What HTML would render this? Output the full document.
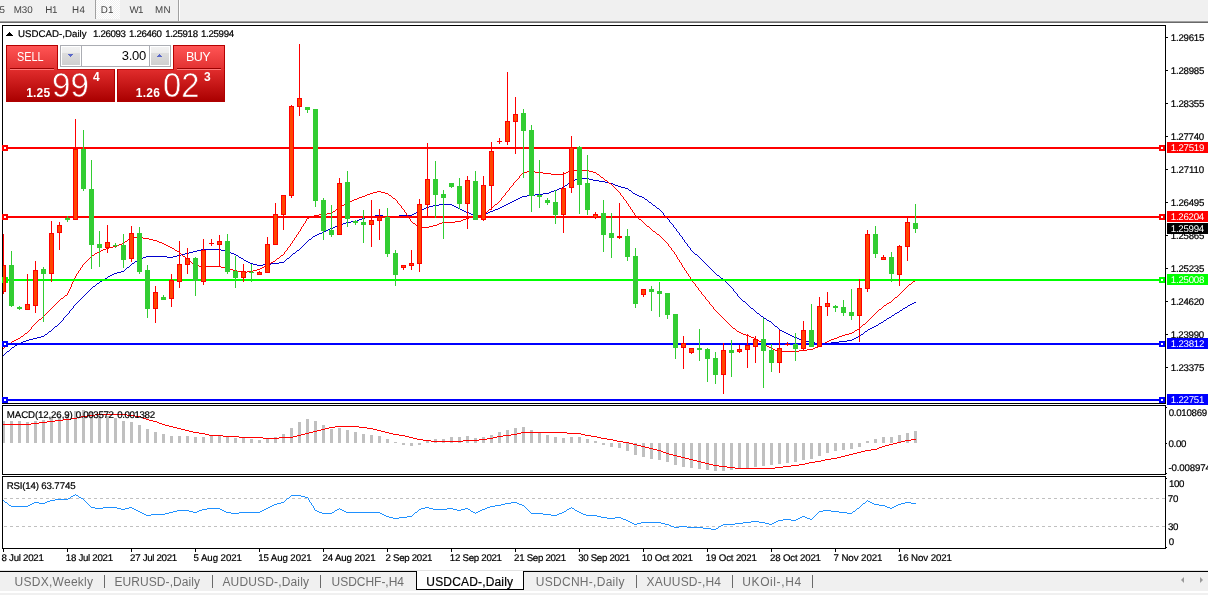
<!DOCTYPE html>
<html><head><meta charset="utf-8"><title>USDCAD-,Daily</title>
<style>
html,body{margin:0;padding:0;background:#fff}
body{width:1208px;height:595px;overflow:hidden;position:relative;font-family:"Liberation Sans",sans-serif}
#chart{position:absolute;left:0;top:0}
.t{position:absolute;white-space:pre;transform-origin:0 0;display:block}
.ax{color:#000;-webkit-text-stroke:0.2px #000}
.axw{color:#fff}
.tb{color:#444}
.tab{color:#6e6e6e}
.taba{color:#000;-webkit-text-stroke:0.2px #000}
.btn,.sm{color:#fff}
.big{color:#fff;-webkit-text-stroke:0.6px #c61818}
.vol{color:#000}
i{position:absolute;display:block}
.pl{left:1167px;width:41px;height:11px}
#toolbar{position:absolute;left:0;top:0;width:1208px;height:21px;background:#f0f0f0}
#tbl1{left:0;top:21px;width:1208px;height:1px;background:#a0a0a0}
#tbl2{left:0;top:22px;width:1208px;height:1px;background:#696969}
.tsep{top:0;width:1px;background:#a0a0a0}
#d1{left:96px;top:0;width:24px;height:19px;background-image:conic-gradient(#fff 25%,#f0f0f0 0 50%,#fff 0 75%,#f0f0f0 0);background-size:2px 2px}
#tabbar{position:absolute;left:0;top:570px;width:1208px;height:25px;background:#f0f0f0}
#tl1{left:0;top:0;width:100%;height:1px;background:#e3e3e3}
#tl2{left:0;top:1px;width:100%;height:1px;background:#000}
#tl3{left:0;top:21px;width:100%;height:2px;background:#fff}
.sep{top:575px;width:1px;height:13px;background:#6a6a6a}
#act{left:416px;top:571px;width:106px;height:18px;background:#fff;border:1px solid #000;border-top:0}
.ar{top:576.5px;width:0;height:0;border:3.5px solid transparent}
/* trade panel */
.rb{background:linear-gradient(#ff5454,#e23232);border:1px solid #b40000;border-bottom:0;box-sizing:border-box;top:45px;width:52px;height:24px}
.px{background:linear-gradient(#e02c2c,#aa0000);border:1px solid #b00000;border-top-color:#c01010;box-sizing:border-box;top:69px;height:33px}
.ud{top:68px;height:1px;width:44px;background:#9a0000}
.ul{top:69px;height:1px;width:44px;background:#ff7878}
#spin{left:60px;top:45px;width:111px;height:22px;box-sizing:border-box;border:1px solid #abadb3;background:#fff}
.sb{top:47px;width:18px;height:18px;background:linear-gradient(#f2f2f2,#ebebeb 33%,#dddddd 34%,#cfcfcf)}
.sv{top:46px;width:1px;height:20px;background:#abadb3}
.a1{height:1px;background:#5a68c8}
</style></head><body>
<svg id="chart" width="1208" height="595" viewBox="0 0 1208 595" shape-rendering="crispEdges">
<path d="M578 178h11v1h-11zM575 179h3v1h-3zM589 179h4v1h-4zM573 180h2v1h-2zM593 180h6v1h-6zM571 181h2v1h-2zM599 181h6v1h-6zM569 182h2v1h-2zM605 182h4v1h-4zM568 183h1v1h-1zM609 183h4v1h-4zM567 184h1v1h-1zM613 184h2v1h-2zM565 185h2v1h-2zM615 185h3v1h-3zM564 186h1v1h-1zM618 186h3v1h-3zM562 187h2v1h-2zM621 187h4v1h-4zM559 188h3v1h-3zM625 188h3v1h-3zM557 189h2v1h-2zM628 189h1v1h-1zM554 190h3v1h-3zM629 190h2v1h-2zM551 191h3v1h-3zM631 191h1v1h-1zM549 192h2v1h-2zM632 192h1v1h-1zM543 193h6v1h-6zM633 193h2v1h-2zM535 194h8v1h-8zM635 194h2v1h-2zM527 195h8v1h-8zM637 195h2v1h-2zM522 196h5v1h-5zM639 196h3v1h-3zM520 197h2v1h-2zM642 197h2v1h-2zM518 198h2v1h-2zM644 198h1v1h-1zM516 199h2v1h-2zM645 199h2v1h-2zM514 200h2v1h-2zM647 200h1v1h-1zM512 201h2v1h-2zM648 201h1v1h-1zM510 202h2v1h-2zM649 202h2v1h-2zM508 203h2v1h-2zM651 203h1v1h-1zM439 204h13v1h-13zM506 204h2v1h-2zM652 204h1v1h-1zM433 205h6v1h-6zM452 205h2v1h-2zM504 205h2v1h-2zM653 205h2v1h-2zM429 206h4v1h-4zM454 206h2v1h-2zM502 206h2v1h-2zM655 206h1v1h-1zM426 207h3v1h-3zM456 207h2v1h-2zM500 207h2v1h-2zM656 207h1v1h-1zM424 208h2v1h-2zM458 208h2v1h-2zM498 208h2v1h-2zM657 208h2v1h-2zM422 209h2v1h-2zM460 209h2v1h-2zM495 209h3v1h-3zM659 209h1v1h-1zM420 210h2v1h-2zM462 210h2v1h-2zM493 210h2v1h-2zM660 210h1v1h-1zM418 211h2v1h-2zM464 211h2v1h-2zM490 211h3v1h-3zM661 211h1v1h-1zM416 212h2v1h-2zM466 212h3v1h-3zM488 212h2v1h-2zM662 212h1v1h-1zM414 213h2v1h-2zM469 213h2v1h-2zM486 213h2v1h-2zM663 213h1v1h-1zM412 214h2v1h-2zM471 214h3v1h-3zM484 214h2v1h-2zM663 214h1v1h-1zM375 215h8v1h-8zM399 215h13v1h-13zM474 215h10v1h-10zM664 215h1v1h-1zM369 216h6v1h-6zM383 216h16v1h-16zM665 216h1v1h-1zM365 217h4v1h-4zM666 217h1v1h-1zM362 218h3v1h-3zM667 218h1v1h-1zM359 219h3v1h-3zM668 219h1v1h-1zM357 220h2v1h-2zM669 220h1v1h-1zM351 221h6v1h-6zM669 221h1v1h-1zM346 222h5v1h-5zM670 222h1v1h-1zM343 223h3v1h-3zM671 223h1v1h-1zM341 224h2v1h-2zM672 224h1v1h-1zM338 225h3v1h-3zM673 225h1v1h-1zM335 226h3v1h-3zM673 226h1v1h-1zM333 227h2v1h-2zM674 227h1v1h-1zM330 228h3v1h-3zM675 228h1v1h-1zM328 229h2v1h-2zM676 229h1v1h-1zM326 230h2v1h-2zM676 230h1v1h-1zM324 231h2v1h-2zM677 231h1v1h-1zM322 232h2v1h-2zM678 232h1v1h-1zM319 233h3v1h-3zM679 233h1v1h-1zM317 234h2v1h-2zM679 234h1v1h-1zM315 235h2v1h-2zM680 235h1v1h-1zM313 236h2v1h-2zM681 236h1v1h-1zM312 237h1v1h-1zM682 237h1v1h-1zM311 238h1v1h-1zM682 238h1v1h-1zM309 239h2v1h-2zM683 239h1v1h-1zM308 240h1v1h-1zM684 240h1v1h-1zM307 241h1v1h-1zM684 241h1v1h-1zM306 242h1v1h-1zM685 242h1v1h-1zM305 243h1v1h-1zM686 243h1v1h-1zM304 244h1v1h-1zM687 244h1v1h-1zM303 245h1v1h-1zM687 245h1v1h-1zM302 246h1v1h-1zM688 246h1v1h-1zM301 247h1v1h-1zM689 247h1v1h-1zM300 248h1v1h-1zM690 248h1v1h-1zM201 249h20v1h-20zM299 249h1v1h-1zM690 249h1v1h-1zM197 250h4v1h-4zM221 250h4v1h-4zM297 250h2v1h-2zM691 250h1v1h-1zM193 251h4v1h-4zM225 251h4v1h-4zM296 251h1v1h-1zM692 251h1v1h-1zM189 252h4v1h-4zM229 252h2v1h-2zM295 252h1v1h-1zM693 252h1v1h-1zM185 253h4v1h-4zM231 253h3v1h-3zM293 253h2v1h-2zM694 253h1v1h-1zM181 254h4v1h-4zM234 254h2v1h-2zM292 254h1v1h-1zM695 254h2v1h-2zM177 255h4v1h-4zM236 255h2v1h-2zM291 255h1v1h-1zM697 255h1v1h-1zM146 256h21v1h-21zM173 256h4v1h-4zM238 256h1v1h-1zM290 256h1v1h-1zM698 256h1v1h-1zM143 257h3v1h-3zM167 257h6v1h-6zM239 257h2v1h-2zM289 257h1v1h-1zM699 257h1v1h-1zM141 258h2v1h-2zM241 258h2v1h-2zM287 258h2v1h-2zM700 258h1v1h-1zM139 259h2v1h-2zM243 259h1v1h-1zM286 259h1v1h-1zM701 259h1v1h-1zM137 260h2v1h-2zM244 260h2v1h-2zM285 260h1v1h-1zM702 260h1v1h-1zM135 261h2v1h-2zM246 261h2v1h-2zM284 261h1v1h-1zM703 261h1v1h-1zM134 262h1v1h-1zM248 262h2v1h-2zM279 262h5v1h-5zM704 262h1v1h-1zM132 263h2v1h-2zM250 263h3v1h-3zM271 263h8v1h-8zM705 263h1v1h-1zM131 264h1v1h-1zM253 264h4v1h-4zM263 264h8v1h-8zM706 264h1v1h-1zM130 265h1v1h-1zM257 265h6v1h-6zM707 265h1v1h-1zM129 266h1v1h-1zM708 266h1v1h-1zM127 267h2v1h-2zM709 267h1v1h-1zM126 268h1v1h-1zM710 268h1v1h-1zM125 269h1v1h-1zM711 269h1v1h-1zM124 270h1v1h-1zM712 270h1v1h-1zM121 271h3v1h-3zM713 271h1v1h-1zM117 272h4v1h-4zM714 272h1v1h-1zM114 273h3v1h-3zM715 273h1v1h-1zM112 274h2v1h-2zM716 274h1v1h-1zM110 275h2v1h-2zM717 275h2v1h-2zM108 276h2v1h-2zM719 276h1v1h-1zM107 277h1v1h-1zM720 277h1v1h-1zM105 278h2v1h-2zM721 278h2v1h-2zM103 279h2v1h-2zM723 279h1v1h-1zM102 280h1v1h-1zM724 280h1v1h-1zM100 281h2v1h-2zM725 281h1v1h-1zM99 282h1v1h-1zM726 282h1v1h-1zM97 283h2v1h-2zM727 283h1v1h-1zM96 284h1v1h-1zM728 284h1v1h-1zM95 285h1v1h-1zM729 285h1v1h-1zM93 286h2v1h-2zM730 286h1v1h-1zM92 287h1v1h-1zM731 287h1v1h-1zM91 288h1v1h-1zM732 288h1v1h-1zM90 289h1v1h-1zM733 289h1v1h-1zM89 290h1v1h-1zM733 290h1v1h-1zM88 291h1v1h-1zM734 291h1v1h-1zM87 292h1v1h-1zM735 292h1v1h-1zM86 293h1v1h-1zM736 293h1v1h-1zM85 294h1v1h-1zM737 294h1v1h-1zM84 295h1v1h-1zM737 295h1v1h-1zM83 296h1v1h-1zM738 296h1v1h-1zM82 297h1v1h-1zM739 297h1v1h-1zM81 298h1v1h-1zM740 298h1v1h-1zM80 299h1v1h-1zM741 299h1v1h-1zM79 300h1v1h-1zM742 300h1v1h-1zM78 301h1v1h-1zM743 301h2v1h-2zM77 302h1v1h-1zM745 302h1v1h-1zM914 302h2v1h-2zM76 303h1v1h-1zM746 303h1v1h-1zM912 303h2v1h-2zM75 304h1v1h-1zM747 304h1v1h-1zM910 304h2v1h-2zM74 305h1v1h-1zM748 305h1v1h-1zM908 305h2v1h-2zM73 306h1v1h-1zM749 306h1v1h-1zM907 306h1v1h-1zM73 307h1v1h-1zM750 307h1v1h-1zM905 307h2v1h-2zM72 308h1v1h-1zM751 308h2v1h-2zM903 308h2v1h-2zM71 309h1v1h-1zM753 309h1v1h-1zM902 309h1v1h-1zM70 310h1v1h-1zM754 310h1v1h-1zM900 310h2v1h-2zM69 311h1v1h-1zM755 311h1v1h-1zM899 311h1v1h-1zM69 312h1v1h-1zM756 312h1v1h-1zM897 312h2v1h-2zM68 313h1v1h-1zM757 313h2v1h-2zM895 313h2v1h-2zM67 314h1v1h-1zM759 314h1v1h-1zM894 314h1v1h-1zM66 315h1v1h-1zM760 315h1v1h-1zM892 315h2v1h-2zM65 316h1v1h-1zM761 316h2v1h-2zM891 316h1v1h-1zM64 317h1v1h-1zM763 317h1v1h-1zM889 317h2v1h-2zM63 318h1v1h-1zM764 318h2v1h-2zM887 318h2v1h-2zM63 319h1v1h-1zM766 319h1v1h-1zM886 319h1v1h-1zM62 320h1v1h-1zM767 320h2v1h-2zM884 320h2v1h-2zM61 321h1v1h-1zM769 321h2v1h-2zM883 321h1v1h-1zM60 322h1v1h-1zM771 322h1v1h-1zM881 322h2v1h-2zM59 323h1v1h-1zM772 323h1v1h-1zM879 323h2v1h-2zM58 324h1v1h-1zM773 324h1v1h-1zM878 324h1v1h-1zM57 325h1v1h-1zM774 325h1v1h-1zM876 325h2v1h-2zM55 326h2v1h-2zM775 326h2v1h-2zM874 326h2v1h-2zM54 327h1v1h-1zM777 327h1v1h-1zM872 327h2v1h-2zM53 328h1v1h-1zM778 328h1v1h-1zM870 328h2v1h-2zM52 329h1v1h-1zM779 329h1v1h-1zM868 329h2v1h-2zM51 330h1v1h-1zM780 330h2v1h-2zM867 330h1v1h-1zM49 331h2v1h-2zM782 331h2v1h-2zM865 331h2v1h-2zM48 332h1v1h-1zM784 332h2v1h-2zM864 332h1v1h-1zM47 333h1v1h-1zM786 333h2v1h-2zM863 333h1v1h-1zM45 334h2v1h-2zM788 334h2v1h-2zM861 334h2v1h-2zM44 335h1v1h-1zM790 335h2v1h-2zM860 335h1v1h-1zM41 336h3v1h-3zM792 336h2v1h-2zM858 336h2v1h-2zM37 337h4v1h-4zM794 337h3v1h-3zM856 337h2v1h-2zM33 338h4v1h-4zM797 338h2v1h-2zM854 338h2v1h-2zM29 339h4v1h-4zM799 339h3v1h-3zM852 339h2v1h-2zM26 340h3v1h-3zM802 340h3v1h-3zM847 340h5v1h-5zM23 341h3v1h-3zM805 341h4v1h-4zM839 341h8v1h-8zM21 342h2v1h-2zM809 342h6v1h-6zM831 342h8v1h-8zM19 343h2v1h-2zM815 343h16v1h-16zM17 344h2v1h-2zM15 345h2v1h-2zM14 346h1v1h-1zM12 347h2v1h-2zM11 348h1v1h-1zM10 349h1v1h-1zM9 350h1v1h-1zM7 351h2v1h-2zM6 352h1v1h-1zM5 353h1v1h-1zM4 354h1v1h-1zM3 355h1v1h-1z" fill="#0000cd"/>
<path d="M570 170h19v1h-19zM527 171h8v1h-8zM568 171h2v1h-2zM589 171h4v1h-4zM523 172h4v1h-4zM535 172h8v1h-8zM566 172h2v1h-2zM593 172h3v1h-3zM522 173h1v1h-1zM543 173h8v1h-8zM564 173h2v1h-2zM596 173h1v1h-1zM521 174h1v1h-1zM551 174h13v1h-13zM597 174h2v1h-2zM520 175h1v1h-1zM599 175h1v1h-1zM519 176h1v1h-1zM600 176h1v1h-1zM519 177h1v1h-1zM601 177h2v1h-2zM518 178h1v1h-1zM603 178h1v1h-1zM517 179h1v1h-1zM604 179h1v1h-1zM516 180h1v1h-1zM605 180h2v1h-2zM515 181h1v1h-1zM607 181h1v1h-1zM514 182h1v1h-1zM608 182h1v1h-1zM513 183h1v1h-1zM609 183h2v1h-2zM513 184h1v1h-1zM611 184h1v1h-1zM512 185h1v1h-1zM612 185h1v1h-1zM511 186h1v1h-1zM613 186h1v1h-1zM510 187h1v1h-1zM614 187h1v1h-1zM509 188h1v1h-1zM615 188h1v1h-1zM509 189h1v1h-1zM616 189h1v1h-1zM508 190h1v1h-1zM617 190h1v1h-1zM377 191h4v1h-4zM507 191h1v1h-1zM618 191h1v1h-1zM373 192h4v1h-4zM381 192h4v1h-4zM506 192h1v1h-1zM619 192h1v1h-1zM370 193h3v1h-3zM385 193h3v1h-3zM505 193h1v1h-1zM620 193h1v1h-1zM367 194h3v1h-3zM388 194h1v1h-1zM505 194h1v1h-1zM620 194h1v1h-1zM365 195h2v1h-2zM389 195h2v1h-2zM504 195h1v1h-1zM621 195h1v1h-1zM362 196h3v1h-3zM391 196h1v1h-1zM503 196h1v1h-1zM622 196h1v1h-1zM359 197h3v1h-3zM392 197h1v1h-1zM502 197h1v1h-1zM623 197h1v1h-1zM357 198h2v1h-2zM393 198h2v1h-2zM501 198h1v1h-1zM623 198h1v1h-1zM354 199h3v1h-3zM395 199h1v1h-1zM501 199h1v1h-1zM624 199h1v1h-1zM352 200h2v1h-2zM396 200h1v1h-1zM500 200h1v1h-1zM625 200h1v1h-1zM350 201h2v1h-2zM397 201h1v1h-1zM499 201h1v1h-1zM626 201h1v1h-1zM348 202h2v1h-2zM397 202h1v1h-1zM498 202h1v1h-1zM626 202h1v1h-1zM346 203h2v1h-2zM398 203h1v1h-1zM497 203h1v1h-1zM627 203h1v1h-1zM344 204h2v1h-2zM399 204h1v1h-1zM495 204h2v1h-2zM628 204h1v1h-1zM342 205h2v1h-2zM400 205h1v1h-1zM494 205h1v1h-1zM628 205h1v1h-1zM340 206h2v1h-2zM401 206h1v1h-1zM493 206h1v1h-1zM629 206h1v1h-1zM339 207h1v1h-1zM401 207h1v1h-1zM492 207h1v1h-1zM630 207h1v1h-1zM337 208h2v1h-2zM402 208h1v1h-1zM491 208h1v1h-1zM630 208h1v1h-1zM336 209h1v1h-1zM403 209h1v1h-1zM489 209h2v1h-2zM631 209h1v1h-1zM335 210h1v1h-1zM404 210h1v1h-1zM488 210h1v1h-1zM632 210h1v1h-1zM333 211h2v1h-2zM404 211h1v1h-1zM487 211h1v1h-1zM632 211h1v1h-1zM332 212h1v1h-1zM405 212h1v1h-1zM485 212h2v1h-2zM633 212h1v1h-1zM327 213h5v1h-5zM406 213h1v1h-1zM484 213h1v1h-1zM634 213h1v1h-1zM319 214h8v1h-8zM406 214h1v1h-1zM481 214h3v1h-3zM634 214h1v1h-1zM314 215h5v1h-5zM407 215h1v1h-1zM477 215h4v1h-4zM635 215h1v1h-1zM311 216h3v1h-3zM408 216h1v1h-1zM473 216h4v1h-4zM636 216h1v1h-1zM309 217h2v1h-2zM408 217h1v1h-1zM469 217h4v1h-4zM637 217h1v1h-1zM307 218h2v1h-2zM409 218h1v1h-1zM466 218h3v1h-3zM638 218h1v1h-1zM306 219h1v1h-1zM410 219h1v1h-1zM463 219h3v1h-3zM639 219h2v1h-2zM306 220h1v1h-1zM410 220h1v1h-1zM461 220h2v1h-2zM641 220h1v1h-1zM305 221h1v1h-1zM411 221h1v1h-1zM455 221h6v1h-6zM642 221h1v1h-1zM305 222h1v1h-1zM412 222h1v1h-1zM442 222h13v1h-13zM643 222h1v1h-1zM304 223h1v1h-1zM413 223h2v1h-2zM439 223h3v1h-3zM644 223h1v1h-1zM303 224h1v1h-1zM415 224h1v1h-1zM437 224h2v1h-2zM645 224h1v1h-1zM303 225h1v1h-1zM416 225h1v1h-1zM433 225h4v1h-4zM646 225h1v1h-1zM302 226h1v1h-1zM417 226h2v1h-2zM429 226h4v1h-4zM647 226h2v1h-2zM301 227h1v1h-1zM419 227h10v1h-10zM649 227h1v1h-1zM301 228h1v1h-1zM650 228h1v1h-1zM300 229h1v1h-1zM651 229h1v1h-1zM300 230h1v1h-1zM652 230h1v1h-1zM299 231h1v1h-1zM653 231h2v1h-2zM298 232h1v1h-1zM655 232h1v1h-1zM298 233h1v1h-1zM656 233h1v1h-1zM297 234h1v1h-1zM657 234h2v1h-2zM296 235h1v1h-1zM659 235h1v1h-1zM296 236h1v1h-1zM660 236h1v1h-1zM131 237h12v1h-12zM295 237h1v1h-1zM661 237h1v1h-1zM129 238h2v1h-2zM143 238h6v1h-6zM294 238h1v1h-1zM662 238h1v1h-1zM128 239h1v1h-1zM149 239h4v1h-4zM294 239h1v1h-1zM663 239h1v1h-1zM127 240h1v1h-1zM153 240h4v1h-4zM293 240h1v1h-1zM664 240h1v1h-1zM125 241h2v1h-2zM157 241h2v1h-2zM292 241h1v1h-1zM665 241h1v1h-1zM124 242h1v1h-1zM159 242h3v1h-3zM292 242h1v1h-1zM666 242h1v1h-1zM122 243h2v1h-2zM162 243h2v1h-2zM291 243h1v1h-1zM667 243h1v1h-1zM119 244h3v1h-3zM164 244h2v1h-2zM290 244h1v1h-1zM668 244h1v1h-1zM117 245h2v1h-2zM166 245h2v1h-2zM290 245h1v1h-1zM668 245h1v1h-1zM113 246h4v1h-4zM168 246h2v1h-2zM289 246h1v1h-1zM669 246h1v1h-1zM109 247h4v1h-4zM170 247h2v1h-2zM288 247h1v1h-1zM670 247h1v1h-1zM106 248h3v1h-3zM172 248h2v1h-2zM287 248h1v1h-1zM671 248h1v1h-1zM103 249h3v1h-3zM174 249h1v1h-1zM287 249h1v1h-1zM671 249h1v1h-1zM101 250h2v1h-2zM175 250h2v1h-2zM286 250h1v1h-1zM672 250h1v1h-1zM99 251h2v1h-2zM177 251h2v1h-2zM285 251h1v1h-1zM673 251h1v1h-1zM97 252h2v1h-2zM179 252h1v1h-1zM284 252h1v1h-1zM674 252h1v1h-1zM95 253h2v1h-2zM180 253h1v1h-1zM284 253h1v1h-1zM674 253h1v1h-1zM94 254h1v1h-1zM181 254h1v1h-1zM283 254h1v1h-1zM675 254h1v1h-1zM92 255h2v1h-2zM182 255h1v1h-1zM281 255h2v1h-2zM676 255h1v1h-1zM91 256h1v1h-1zM183 256h2v1h-2zM280 256h1v1h-1zM676 256h1v1h-1zM90 257h1v1h-1zM185 257h1v1h-1zM279 257h1v1h-1zM677 257h1v1h-1zM89 258h1v1h-1zM186 258h1v1h-1zM277 258h2v1h-2zM677 258h1v1h-1zM88 259h1v1h-1zM187 259h1v1h-1zM276 259h1v1h-1zM678 259h1v1h-1zM87 260h1v1h-1zM188 260h1v1h-1zM275 260h1v1h-1zM679 260h1v1h-1zM86 261h1v1h-1zM189 261h2v1h-2zM273 261h2v1h-2zM679 261h1v1h-1zM85 262h1v1h-1zM191 262h1v1h-1zM271 262h2v1h-2zM680 262h1v1h-1zM84 263h1v1h-1zM192 263h1v1h-1zM270 263h1v1h-1zM681 263h1v1h-1zM83 264h1v1h-1zM193 264h2v1h-2zM268 264h2v1h-2zM681 264h1v1h-1zM82 265h1v1h-1zM195 265h4v1h-4zM266 265h2v1h-2zM682 265h1v1h-1zM82 266h1v1h-1zM199 266h22v1h-22zM264 266h2v1h-2zM682 266h1v1h-1zM81 267h1v1h-1zM221 267h4v1h-4zM262 267h2v1h-2zM683 267h1v1h-1zM80 268h1v1h-1zM225 268h4v1h-4zM260 268h2v1h-2zM684 268h1v1h-1zM80 269h1v1h-1zM229 269h4v1h-4zM257 269h3v1h-3zM684 269h1v1h-1zM79 270h1v1h-1zM233 270h4v1h-4zM253 270h4v1h-4zM685 270h1v1h-1zM78 271h1v1h-1zM237 271h4v1h-4zM247 271h6v1h-6zM686 271h1v1h-1zM78 272h1v1h-1zM241 272h6v1h-6zM686 272h1v1h-1zM77 273h1v1h-1zM687 273h1v1h-1zM76 274h1v1h-1zM688 274h1v1h-1zM76 275h1v1h-1zM688 275h1v1h-1zM75 276h1v1h-1zM689 276h1v1h-1zM75 277h1v1h-1zM690 277h1v1h-1zM74 278h1v1h-1zM690 278h1v1h-1zM74 279h1v1h-1zM691 279h1v1h-1zM73 280h1v1h-1zM692 280h1v1h-1zM915 280h1v1h-1zM73 281h1v1h-1zM692 281h1v1h-1zM913 281h2v1h-2zM72 282h1v1h-1zM693 282h1v1h-1zM912 282h1v1h-1zM72 283h1v1h-1zM694 283h1v1h-1zM911 283h1v1h-1zM71 284h1v1h-1zM695 284h1v1h-1zM909 284h2v1h-2zM71 285h1v1h-1zM695 285h1v1h-1zM908 285h1v1h-1zM71 286h1v1h-1zM696 286h1v1h-1zM907 286h1v1h-1zM70 287h1v1h-1zM697 287h1v1h-1zM906 287h1v1h-1zM70 288h1v1h-1zM698 288h1v1h-1zM905 288h1v1h-1zM69 289h1v1h-1zM698 289h1v1h-1zM904 289h1v1h-1zM69 290h1v1h-1zM699 290h1v1h-1zM903 290h1v1h-1zM68 291h1v1h-1zM700 291h1v1h-1zM902 291h1v1h-1zM68 292h1v1h-1zM701 292h1v1h-1zM901 292h1v1h-1zM67 293h1v1h-1zM701 293h1v1h-1zM900 293h1v1h-1zM67 294h1v1h-1zM702 294h1v1h-1zM899 294h1v1h-1zM65 295h2v1h-2zM703 295h1v1h-1zM898 295h1v1h-1zM64 296h1v1h-1zM704 296h1v1h-1zM897 296h1v1h-1zM63 297h1v1h-1zM705 297h1v1h-1zM895 297h2v1h-2zM61 298h2v1h-2zM705 298h1v1h-1zM894 298h1v1h-1zM60 299h1v1h-1zM706 299h1v1h-1zM893 299h1v1h-1zM59 300h1v1h-1zM707 300h1v1h-1zM892 300h1v1h-1zM58 301h1v1h-1zM708 301h1v1h-1zM891 301h1v1h-1zM57 302h1v1h-1zM709 302h1v1h-1zM889 302h2v1h-2zM56 303h1v1h-1zM709 303h1v1h-1zM887 303h2v1h-2zM55 304h1v1h-1zM710 304h1v1h-1zM886 304h1v1h-1zM54 305h1v1h-1zM711 305h1v1h-1zM884 305h2v1h-2zM53 306h1v1h-1zM712 306h1v1h-1zM883 306h1v1h-1zM52 307h1v1h-1zM713 307h1v1h-1zM882 307h1v1h-1zM51 308h1v1h-1zM713 308h1v1h-1zM881 308h1v1h-1zM50 309h1v1h-1zM714 309h1v1h-1zM879 309h2v1h-2zM49 310h1v1h-1zM715 310h1v1h-1zM878 310h1v1h-1zM48 311h1v1h-1zM716 311h1v1h-1zM877 311h1v1h-1zM47 312h1v1h-1zM717 312h1v1h-1zM876 312h1v1h-1zM46 313h1v1h-1zM718 313h1v1h-1zM875 313h1v1h-1zM45 314h1v1h-1zM719 314h1v1h-1zM874 314h1v1h-1zM44 315h1v1h-1zM720 315h1v1h-1zM873 315h1v1h-1zM43 316h1v1h-1zM721 316h1v1h-1zM872 316h1v1h-1zM42 317h1v1h-1zM722 317h1v1h-1zM871 317h1v1h-1zM41 318h1v1h-1zM723 318h1v1h-1zM870 318h1v1h-1zM39 319h2v1h-2zM724 319h1v1h-1zM869 319h1v1h-1zM38 320h1v1h-1zM725 320h1v1h-1zM868 320h1v1h-1zM37 321h1v1h-1zM726 321h1v1h-1zM867 321h1v1h-1zM36 322h1v1h-1zM727 322h1v1h-1zM866 322h1v1h-1zM35 323h1v1h-1zM728 323h1v1h-1zM865 323h1v1h-1zM34 324h1v1h-1zM729 324h1v1h-1zM863 324h2v1h-2zM33 325h1v1h-1zM730 325h1v1h-1zM862 325h1v1h-1zM32 326h1v1h-1zM731 326h1v1h-1zM861 326h1v1h-1zM31 327h1v1h-1zM732 327h1v1h-1zM860 327h1v1h-1zM31 328h1v1h-1zM733 328h2v1h-2zM859 328h1v1h-1zM30 329h1v1h-1zM735 329h1v1h-1zM857 329h2v1h-2zM29 330h1v1h-1zM736 330h1v1h-1zM855 330h2v1h-2zM28 331h1v1h-1zM737 331h2v1h-2zM854 331h1v1h-1zM27 332h1v1h-1zM739 332h2v1h-2zM852 332h2v1h-2zM25 333h2v1h-2zM741 333h2v1h-2zM849 333h3v1h-3zM24 334h1v1h-1zM743 334h3v1h-3zM845 334h4v1h-4zM23 335h1v1h-1zM746 335h3v1h-3zM842 335h3v1h-3zM21 336h2v1h-2zM749 336h2v1h-2zM839 336h3v1h-3zM20 337h1v1h-1zM751 337h3v1h-3zM837 337h2v1h-2zM18 338h2v1h-2zM754 338h2v1h-2zM834 338h3v1h-3zM16 339h2v1h-2zM756 339h2v1h-2zM831 339h3v1h-3zM14 340h2v1h-2zM758 340h1v1h-1zM829 340h2v1h-2zM12 341h2v1h-2zM759 341h2v1h-2zM827 341h2v1h-2zM11 342h1v1h-1zM761 342h2v1h-2zM825 342h2v1h-2zM9 343h2v1h-2zM763 343h1v1h-1zM823 343h2v1h-2zM8 344h1v1h-1zM764 344h2v1h-2zM822 344h1v1h-1zM7 345h1v1h-1zM766 345h1v1h-1zM820 345h2v1h-2zM5 346h2v1h-2zM767 346h2v1h-2zM818 346h2v1h-2zM4 347h1v1h-1zM769 347h2v1h-2zM815 347h3v1h-3zM3 348h1v1h-1zM771 348h2v1h-2zM813 348h2v1h-2zM773 349h2v1h-2zM807 349h6v1h-6zM775 350h3v1h-3zM799 350h8v1h-8zM778 351h21v1h-21z" fill="#ff0000"/>
<path d="M2 25h1164v1h-1164zM2 403h1164v1h-1164zM2 405h1164v1h-1164zM2 474h1164v1h-1164zM2 476h1164v1h-1164zM2 548h1164v1h-1164zM2 25h1v379h-1zM2 405h1v70h-1zM2 476h1v73h-1zM1165 25h1v379h-1zM1165 405h1v70h-1zM1165 476h1v73h-1zM1166 37h2v1h-2zM1166 70h2v1h-2zM1166 103h2v1h-2zM1166 136h2v1h-2zM1166 169h2v1h-2zM1166 202h2v1h-2zM1166 235h2v1h-2zM1166 268h2v1h-2zM1166 301h2v1h-2zM1166 334h2v1h-2zM1166 367h2v1h-2zM1166 407h1v1h-1zM1166 443h1v1h-1zM1166 473h1v1h-1zM1166 478h1v1h-1zM1166 547h1v1h-1zM3 549h1v3h-1zM67 549h1v3h-1zM131 549h1v3h-1zM195 549h1v3h-1zM259 549h1v3h-1zM323 549h1v3h-1zM387 549h1v3h-1zM451 549h1v3h-1zM515 549h1v3h-1zM579 549h1v3h-1zM643 549h1v3h-1zM707 549h1v3h-1zM771 549h1v3h-1zM835 549h1v3h-1zM899 549h1v3h-1zM9 32h1v1h-1zM8 33h3v1h-3zM7 34h5v1h-5zM6 35h7v1h-7z" fill="#000"/>
<rect x="3" y="147" width="1162" height="2" fill="#ff0000"/>
<rect x="2" y="145" width="6" height="6" fill="#ff0000"/>
<rect x="4" y="147" width="2" height="2" fill="#fff"/>
<rect x="1159" y="145" width="6" height="6" fill="#ff0000"/>
<rect x="1161" y="147" width="2" height="2" fill="#fff"/>
<rect x="3" y="216" width="1162" height="2" fill="#ff0000"/>
<rect x="2" y="214" width="6" height="6" fill="#ff0000"/>
<rect x="4" y="216" width="2" height="2" fill="#fff"/>
<rect x="1159" y="214" width="6" height="6" fill="#ff0000"/>
<rect x="1161" y="216" width="2" height="2" fill="#fff"/>
<rect x="3" y="279" width="1162" height="2" fill="#00ff00"/>
<rect x="2" y="277" width="6" height="6" fill="#00ff00"/>
<rect x="4" y="279" width="2" height="2" fill="#fff"/>
<rect x="1159" y="277" width="6" height="6" fill="#00ff00"/>
<rect x="1161" y="279" width="2" height="2" fill="#fff"/>
<rect x="3" y="343" width="1162" height="2" fill="#0000ff"/>
<rect x="2" y="341" width="6" height="6" fill="#0000ff"/>
<rect x="4" y="343" width="2" height="2" fill="#fff"/>
<rect x="1159" y="341" width="6" height="6" fill="#0000ff"/>
<rect x="1161" y="343" width="2" height="2" fill="#fff"/>
<rect x="3" y="399" width="1162" height="2" fill="#0000ff"/>
<rect x="2" y="397" width="6" height="6" fill="#0000ff"/>
<rect x="4" y="399" width="2" height="2" fill="#fff"/>
<rect x="1159" y="397" width="6" height="6" fill="#0000ff"/>
<rect x="1161" y="399" width="2" height="2" fill="#fff"/>
<path d="M3 234h1v60h-1zM3 265h3v27h-3zM27 274h1v36h-1zM25 304h5v6h-5zM35 261h1v52h-1zM33 270h5v36h-5zM51 221h1v61h-1zM49 233h5v41h-5zM59 222h1v28h-1zM57 225h5v8h-5zM75 119h1v101h-1zM73 149h5v71h-5zM107 225h1v28h-1zM105 242h5v6h-5zM131 226h1v36h-1zM129 233h5v26h-5zM155 286h1v37h-1zM153 292h5v17h-5zM171 274h1v33h-1zM169 280h5v19h-5zM179 241h1v47h-1zM177 264h5v18h-5zM187 248h1v26h-1zM185 258h5v7h-5zM203 239h1v46h-1zM201 250h5v32h-5zM211 239h1v7h-1zM209 243h5v1h-5zM219 235h1v32h-1zM217 241h5v4h-5zM243 264h1v18h-1zM241 271h5v7h-5zM259 271h1v4h-1zM257 272h5v3h-5zM267 237h1v36h-1zM265 244h5v29h-5zM275 203h1v42h-1zM273 214h5v31h-5zM283 195h1v35h-1zM281 195h5v20h-5zM291 105h1v93h-1zM289 106h5v90h-5zM299 44h1v72h-1zM297 98h5v9h-5zM339 178h1v57h-1zM337 183h5v52h-5zM371 200h1v47h-1zM369 220h5v5h-5zM379 209h1v31h-1zM377 217h5v4h-5zM403 265h1v5h-1zM401 265h5v3h-5zM411 250h1v20h-1zM409 263h5v3h-5zM419 199h1v73h-1zM417 204h5v60h-5zM427 143h1v74h-1zM425 179h5v26h-5zM467 176h1v53h-1zM465 180h5v24h-5zM483 176h1v45h-1zM481 185h5v35h-5zM491 142h1v68h-1zM489 151h5v35h-5zM499 138h1v6h-1zM497 141h5v1h-5zM507 72h1v73h-1zM505 121h5v21h-5zM515 97h1v57h-1zM513 114h5v8h-5zM563 172h1v61h-1zM561 188h5v27h-5zM571 136h1v57h-1zM569 147h5v41h-5zM595 212h1v7h-1zM593 214h5v4h-5zM619 203h1v36h-1zM617 236h5v2h-5zM643 289h1v8h-1zM641 289h5v6h-5zM683 336h1v33h-1zM681 343h5v5h-5zM691 348h1v6h-1zM689 348h5v5h-5zM723 343h1v51h-1zM721 350h5v25h-5zM739 345h1v8h-1zM737 349h5v3h-5zM747 334h1v34h-1zM745 345h5v5h-5zM755 336h1v27h-1zM753 339h5v8h-5zM779 330h1v43h-1zM777 348h5v15h-5zM787 342h1v4h-1zM785 344h5v1h-5zM803 321h1v29h-1zM801 330h5v19h-5zM819 297h1v50h-1zM817 306h5v41h-5zM827 292h1v24h-1zM825 303h5v4h-5zM859 279h1v63h-1zM857 288h5v28h-5zM867 230h1v62h-1zM865 234h5v55h-5zM883 255h1v5h-1zM881 257h5v3h-5zM899 245h1v41h-1zM897 246h5v29h-5zM907 217h1v44h-1zM905 222h5v25h-5z" fill="#ff0000"/>
<path d="M3 266h2v25h-2zM26 305h3v4h-3zM34 271h3v34h-3zM50 234h3v39h-3zM58 226h3v6h-3zM74 150h3v69h-3zM106 243h3v4h-3zM130 234h3v24h-3zM154 293h3v15h-3zM170 281h3v17h-3zM178 265h3v16h-3zM186 259h3v5h-3zM202 251h3v30h-3zM218 242h3v2h-3zM242 272h3v5h-3zM258 273h3v1h-3zM266 245h3v27h-3zM274 215h3v29h-3zM282 196h3v18h-3zM290 107h3v88h-3zM298 99h3v7h-3zM338 184h3v50h-3zM370 221h3v3h-3zM378 218h3v2h-3zM402 266h3v1h-3zM410 264h3v1h-3zM418 205h3v58h-3zM426 180h3v24h-3zM466 181h3v22h-3zM482 186h3v33h-3zM490 152h3v33h-3zM506 122h3v19h-3zM514 115h3v6h-3zM562 189h3v25h-3zM570 148h3v39h-3zM594 215h3v2h-3zM642 290h3v4h-3zM682 344h3v3h-3zM690 349h3v3h-3zM722 351h3v23h-3zM738 350h3v1h-3zM746 346h3v3h-3zM754 340h3v6h-3zM778 349h3v13h-3zM802 331h3v17h-3zM818 307h3v39h-3zM826 304h3v2h-3zM858 289h3v26h-3zM866 235h3v53h-3zM882 258h3v1h-3zM898 247h3v27h-3zM906 223h3v23h-3z" fill="#ff4500"/>
<path d="M11 251h1v56h-1zM9 265h5v41h-5zM19 306h1v4h-1zM17 307h5v2h-5zM43 267h1v55h-1zM41 269h5v5h-5zM67 216h1v6h-1zM65 218h5v2h-5zM83 130h1v61h-1zM81 149h5v40h-5zM91 160h1v109h-1zM89 189h5v56h-5zM99 231h1v36h-1zM97 244h5v4h-5zM115 243h1v5h-1zM113 245h5v1h-5zM123 234h1v34h-1zM121 245h5v15h-5zM139 227h1v47h-1zM137 233h5v39h-5zM147 265h1v53h-1zM145 270h5v39h-5zM163 295h1v5h-1zM161 297h5v3h-5zM195 257h1v39h-1zM193 258h5v23h-5zM227 234h1v40h-1zM225 241h5v31h-5zM235 256h1v32h-1zM233 271h5v7h-5zM251 264h1v18h-1zM249 272h5v1h-5zM307 107h1v6h-1zM305 107h5v3h-5zM315 109h1v98h-1zM313 109h5v92h-5zM323 198h1v42h-1zM321 200h5v31h-5zM331 205h1v32h-1zM329 230h5v5h-5zM347 171h1v56h-1zM345 182h5v37h-5zM355 220h1v5h-1zM353 221h5v2h-5zM363 210h1v33h-1zM361 222h5v3h-5zM387 208h1v49h-1zM385 217h5v37h-5zM395 250h1v36h-1zM393 253h5v22h-5zM435 161h1v57h-1zM433 179h5v16h-5zM443 190h1v49h-1zM441 194h5v4h-5zM451 183h1v5h-1zM449 183h5v4h-5zM459 178h1v31h-1zM457 186h5v18h-5zM475 171h1v49h-1zM473 181h5v39h-5zM523 109h1v69h-1zM521 113h5v18h-5zM531 125h1v87h-1zM529 130h5v66h-5zM539 160h1v48h-1zM537 195h5v2h-5zM547 198h1v7h-1zM545 200h5v3h-5zM555 190h1v34h-1zM553 202h5v13h-5zM579 146h1v68h-1zM577 147h5v38h-5zM587 155h1v60h-1zM585 183h5v27h-5zM603 200h1v52h-1zM601 213h5v22h-5zM611 213h1v45h-1zM609 233h5v5h-5zM627 229h1v32h-1zM625 236h5v21h-5zM635 248h1v60h-1zM633 256h5v48h-5zM651 286h1v25h-1zM649 289h5v3h-5zM659 282h1v35h-1zM657 291h5v3h-5zM667 293h1v26h-1zM665 293h5v22h-5zM675 314h1v45h-1zM673 314h5v34h-5zM699 329h1v32h-1zM697 348h5v2h-5zM707 348h1v34h-1zM705 349h5v10h-5zM715 352h1v32h-1zM713 358h5v17h-5zM731 340h1v37h-1zM729 350h5v3h-5zM763 318h1v70h-1zM761 339h5v12h-5zM771 344h1v28h-1zM769 350h5v13h-5zM795 333h1v28h-1zM793 344h5v5h-5zM811 304h1v43h-1zM809 330h5v17h-5zM835 305h1v7h-1zM833 306h5v2h-5zM843 300h1v16h-1zM841 307h5v6h-5zM851 289h1v31h-1zM849 312h5v4h-5zM875 226h1v32h-1zM873 234h5v20h-5zM891 252h1v30h-1zM889 257h5v17h-5zM915 204h1v29h-1zM913 223h5v6h-5z" fill="#32cd32"/>
<path d="M3 421h2v22h-2zM10 421h3v22h-3zM18 421h3v22h-3zM26 422h3v21h-3zM34 421h3v22h-3zM42 420h3v23h-3zM50 418h3v25h-3zM58 416h3v27h-3zM66 414h3v29h-3zM74 411h3v32h-3zM82 410h3v33h-3zM90 412h3v31h-3zM98 414h3v29h-3zM106 416h3v27h-3zM114 418h3v25h-3zM122 421h3v22h-3zM130 422h3v21h-3zM138 425h3v18h-3zM146 429h3v14h-3zM154 432h3v11h-3zM162 434h3v9h-3zM170 436h3v7h-3zM178 436h3v7h-3zM186 436h3v7h-3zM194 437h3v6h-3zM202 437h3v6h-3zM210 436h3v7h-3zM218 436h3v7h-3zM226 437h3v6h-3zM234 438h3v5h-3zM242 438h3v5h-3zM250 439h3v4h-3zM258 440h3v3h-3zM266 439h3v4h-3zM274 437h3v6h-3zM282 434h3v9h-3zM290 428h3v15h-3zM298 422h3v21h-3zM306 419h3v24h-3zM314 421h3v22h-3zM322 425h3v18h-3zM330 429h3v14h-3zM338 428h3v15h-3zM346 430h3v13h-3zM354 432h3v11h-3zM362 434h3v9h-3zM370 435h3v8h-3zM378 436h3v7h-3zM386 439h3v4h-3zM394 442h3v1h-3zM426 441h3v2h-3zM434 439h3v4h-3zM442 439h3v4h-3zM450 437h3v6h-3zM458 437h3v6h-3zM466 436h3v7h-3zM474 438h3v5h-3zM482 437h3v6h-3zM490 435h3v8h-3zM498 432h3v11h-3zM506 430h3v13h-3zM514 428h3v15h-3zM522 427h3v16h-3zM530 430h3v13h-3zM538 433h3v10h-3zM546 435h3v8h-3zM554 437h3v6h-3zM562 438h3v5h-3zM570 437h3v6h-3zM578 437h3v6h-3zM586 439h3v4h-3zM594 441h3v2h-3zM866 441h3v2h-3zM874 439h3v4h-3zM882 437h3v6h-3zM890 437h3v6h-3zM898 435h3v8h-3zM906 433h3v10h-3zM914 431h3v12h-3zM402 443h3v2h-3zM410 443h3v3h-3zM418 443h3v2h-3zM602 443h3v2h-3zM610 443h3v4h-3zM618 443h3v5h-3zM626 443h3v8h-3zM634 443h3v12h-3zM642 443h3v14h-3zM650 443h3v16h-3zM658 443h3v17h-3zM666 443h3v19h-3zM674 443h3v22h-3zM682 443h3v24h-3zM690 443h3v25h-3zM698 443h3v26h-3zM706 443h3v27h-3zM714 443h3v28h-3zM722 443h3v28h-3zM730 443h3v27h-3zM738 443h3v25h-3zM746 443h3v25h-3zM754 443h3v24h-3zM762 443h3v23h-3zM770 443h3v22h-3zM778 443h3v21h-3zM786 443h3v20h-3zM794 443h3v19h-3zM802 443h3v17h-3zM810 443h3v16h-3zM818 443h3v13h-3zM826 443h3v10h-3zM834 443h3v8h-3zM842 443h3v7h-3zM850 443h3v6h-3zM858 443h3v4h-3z" fill="#c0c0c0"/>
<path d="M95 414h32v1h-32zM87 415h8v1h-8zM127 415h8v1h-8zM81 416h6v1h-6zM135 416h6v1h-6zM77 417h4v1h-4zM141 417h2v1h-2zM71 418h6v1h-6zM143 418h3v1h-3zM63 419h8v1h-8zM146 419h3v1h-3zM55 420h8v1h-8zM149 420h4v1h-4zM47 421h8v1h-8zM153 421h4v1h-4zM39 422h8v1h-8zM157 422h2v1h-2zM31 423h8v1h-8zM159 423h3v1h-3zM3 424h28v1h-28zM162 424h3v1h-3zM165 425h4v1h-4zM169 426h4v1h-4zM335 426h24v1h-24zM173 427h4v1h-4zM329 427h6v1h-6zM359 427h8v1h-8zM177 428h4v1h-4zM325 428h4v1h-4zM367 428h6v1h-6zM181 429h4v1h-4zM321 429h4v1h-4zM373 429h4v1h-4zM185 430h4v1h-4zM317 430h4v1h-4zM377 430h4v1h-4zM189 431h4v1h-4zM313 431h4v1h-4zM381 431h4v1h-4zM193 432h6v1h-6zM309 432h4v1h-4zM385 432h4v1h-4zM521 432h46v1h-46zM199 433h6v1h-6zM305 433h4v1h-4zM389 433h4v1h-4zM517 433h4v1h-4zM567 433h14v1h-14zM205 434h4v1h-4zM301 434h4v1h-4zM393 434h6v1h-6zM511 434h6v1h-6zM581 434h4v1h-4zM209 435h14v1h-14zM297 435h4v1h-4zM399 435h6v1h-6zM503 435h8v1h-8zM585 435h6v1h-6zM223 436h16v1h-16zM293 436h4v1h-4zM405 436h4v1h-4zM497 436h6v1h-6zM591 436h6v1h-6zM239 437h24v1h-24zM279 437h14v1h-14zM409 437h4v1h-4zM493 437h4v1h-4zM597 437h4v1h-4zM263 438h16v1h-16zM413 438h4v1h-4zM487 438h6v1h-6zM601 438h6v1h-6zM417 439h6v1h-6zM479 439h8v1h-8zM607 439h6v1h-6zM911 439h5v1h-5zM423 440h8v1h-8zM463 440h16v1h-16zM613 440h4v1h-4zM905 440h6v1h-6zM431 441h32v1h-32zM617 441h6v1h-6zM901 441h4v1h-4zM623 442h6v1h-6zM897 442h4v1h-4zM629 443h4v1h-4zM893 443h4v1h-4zM633 444h4v1h-4zM889 444h4v1h-4zM637 445h4v1h-4zM885 445h4v1h-4zM641 446h4v1h-4zM882 446h3v1h-3zM645 447h4v1h-4zM879 447h3v1h-3zM649 448h4v1h-4zM877 448h2v1h-2zM653 449h4v1h-4zM871 449h6v1h-6zM657 450h4v1h-4zM865 450h6v1h-6zM661 451h2v1h-2zM861 451h4v1h-4zM663 452h3v1h-3zM857 452h4v1h-4zM666 453h3v1h-3zM853 453h4v1h-4zM669 454h4v1h-4zM849 454h4v1h-4zM673 455h4v1h-4zM845 455h4v1h-4zM677 456h4v1h-4zM841 456h4v1h-4zM681 457h4v1h-4zM837 457h4v1h-4zM685 458h4v1h-4zM831 458h6v1h-6zM689 459h4v1h-4zM825 459h6v1h-6zM693 460h4v1h-4zM821 460h4v1h-4zM697 461h4v1h-4zM815 461h6v1h-6zM701 462h4v1h-4zM809 462h6v1h-6zM705 463h4v1h-4zM805 463h4v1h-4zM709 464h4v1h-4zM799 464h6v1h-6zM713 465h6v1h-6zM791 465h8v1h-8zM719 466h8v1h-8zM783 466h8v1h-8zM727 467h8v1h-8zM775 467h8v1h-8zM735 468h40v1h-40z" fill="#ff0000"/>
<path d="M4 498h3v1h-3zM10 498h3v1h-3zM16 498h3v1h-3zM22 498h3v1h-3zM28 498h3v1h-3zM34 498h3v1h-3zM40 498h3v1h-3zM46 498h3v1h-3zM52 498h3v1h-3zM58 498h3v1h-3zM64 498h3v1h-3zM70 498h3v1h-3zM76 498h3v1h-3zM82 498h3v1h-3zM88 498h3v1h-3zM94 498h3v1h-3zM100 498h3v1h-3zM106 498h3v1h-3zM112 498h3v1h-3zM118 498h3v1h-3zM124 498h3v1h-3zM130 498h3v1h-3zM136 498h3v1h-3zM142 498h3v1h-3zM148 498h3v1h-3zM154 498h3v1h-3zM160 498h3v1h-3zM166 498h3v1h-3zM172 498h3v1h-3zM178 498h3v1h-3zM184 498h3v1h-3zM190 498h3v1h-3zM196 498h3v1h-3zM202 498h3v1h-3zM208 498h3v1h-3zM214 498h3v1h-3zM220 498h3v1h-3zM226 498h3v1h-3zM232 498h3v1h-3zM238 498h3v1h-3zM244 498h3v1h-3zM250 498h3v1h-3zM256 498h3v1h-3zM262 498h3v1h-3zM268 498h3v1h-3zM274 498h3v1h-3zM280 498h3v1h-3zM286 498h3v1h-3zM292 498h3v1h-3zM298 498h3v1h-3zM304 498h3v1h-3zM310 498h3v1h-3zM316 498h3v1h-3zM322 498h3v1h-3zM328 498h3v1h-3zM334 498h3v1h-3zM340 498h3v1h-3zM346 498h3v1h-3zM352 498h3v1h-3zM358 498h3v1h-3zM364 498h3v1h-3zM370 498h3v1h-3zM376 498h3v1h-3zM382 498h3v1h-3zM388 498h3v1h-3zM394 498h3v1h-3zM400 498h3v1h-3zM406 498h3v1h-3zM412 498h3v1h-3zM418 498h3v1h-3zM424 498h3v1h-3zM430 498h3v1h-3zM436 498h3v1h-3zM442 498h3v1h-3zM448 498h3v1h-3zM454 498h3v1h-3zM460 498h3v1h-3zM466 498h3v1h-3zM472 498h3v1h-3zM478 498h3v1h-3zM484 498h3v1h-3zM490 498h3v1h-3zM496 498h3v1h-3zM502 498h3v1h-3zM508 498h3v1h-3zM514 498h3v1h-3zM520 498h3v1h-3zM526 498h3v1h-3zM532 498h3v1h-3zM538 498h3v1h-3zM544 498h3v1h-3zM550 498h3v1h-3zM556 498h3v1h-3zM562 498h3v1h-3zM568 498h3v1h-3zM574 498h3v1h-3zM580 498h3v1h-3zM586 498h3v1h-3zM592 498h3v1h-3zM598 498h3v1h-3zM604 498h3v1h-3zM610 498h3v1h-3zM616 498h3v1h-3zM622 498h3v1h-3zM628 498h3v1h-3zM634 498h3v1h-3zM640 498h3v1h-3zM646 498h3v1h-3zM652 498h3v1h-3zM658 498h3v1h-3zM664 498h3v1h-3zM670 498h3v1h-3zM676 498h3v1h-3zM682 498h3v1h-3zM688 498h3v1h-3zM694 498h3v1h-3zM700 498h3v1h-3zM706 498h3v1h-3zM712 498h3v1h-3zM718 498h3v1h-3zM724 498h3v1h-3zM730 498h3v1h-3zM736 498h3v1h-3zM742 498h3v1h-3zM748 498h3v1h-3zM754 498h3v1h-3zM760 498h3v1h-3zM766 498h3v1h-3zM772 498h3v1h-3zM778 498h3v1h-3zM784 498h3v1h-3zM790 498h3v1h-3zM796 498h3v1h-3zM802 498h3v1h-3zM808 498h3v1h-3zM814 498h3v1h-3zM820 498h3v1h-3zM826 498h3v1h-3zM832 498h3v1h-3zM838 498h3v1h-3zM844 498h3v1h-3zM850 498h3v1h-3zM856 498h3v1h-3zM862 498h3v1h-3zM868 498h3v1h-3zM874 498h3v1h-3zM880 498h3v1h-3zM886 498h3v1h-3zM892 498h3v1h-3zM898 498h3v1h-3zM904 498h3v1h-3zM910 498h3v1h-3zM916 498h3v1h-3zM922 498h3v1h-3zM928 498h3v1h-3zM934 498h3v1h-3zM940 498h3v1h-3zM946 498h3v1h-3zM952 498h3v1h-3zM958 498h3v1h-3zM964 498h3v1h-3zM970 498h3v1h-3zM976 498h3v1h-3zM982 498h3v1h-3zM988 498h3v1h-3zM994 498h3v1h-3zM1000 498h3v1h-3zM1006 498h3v1h-3zM1012 498h3v1h-3zM1018 498h3v1h-3zM1024 498h3v1h-3zM1030 498h3v1h-3zM1036 498h3v1h-3zM1042 498h3v1h-3zM1048 498h3v1h-3zM1054 498h3v1h-3zM1060 498h3v1h-3zM1066 498h3v1h-3zM1072 498h3v1h-3zM1078 498h3v1h-3zM1084 498h3v1h-3zM1090 498h3v1h-3zM1096 498h3v1h-3zM1102 498h3v1h-3zM1108 498h3v1h-3zM1114 498h3v1h-3zM1120 498h3v1h-3zM1126 498h3v1h-3zM1132 498h3v1h-3zM1138 498h3v1h-3zM1144 498h3v1h-3zM1150 498h3v1h-3zM1156 498h3v1h-3zM1162 498h3v1h-3zM4 526h3v1h-3zM10 526h3v1h-3zM16 526h3v1h-3zM22 526h3v1h-3zM28 526h3v1h-3zM34 526h3v1h-3zM40 526h3v1h-3zM46 526h3v1h-3zM52 526h3v1h-3zM58 526h3v1h-3zM64 526h3v1h-3zM70 526h3v1h-3zM76 526h3v1h-3zM82 526h3v1h-3zM88 526h3v1h-3zM94 526h3v1h-3zM100 526h3v1h-3zM106 526h3v1h-3zM112 526h3v1h-3zM118 526h3v1h-3zM124 526h3v1h-3zM130 526h3v1h-3zM136 526h3v1h-3zM142 526h3v1h-3zM148 526h3v1h-3zM154 526h3v1h-3zM160 526h3v1h-3zM166 526h3v1h-3zM172 526h3v1h-3zM178 526h3v1h-3zM184 526h3v1h-3zM190 526h3v1h-3zM196 526h3v1h-3zM202 526h3v1h-3zM208 526h3v1h-3zM214 526h3v1h-3zM220 526h3v1h-3zM226 526h3v1h-3zM232 526h3v1h-3zM238 526h3v1h-3zM244 526h3v1h-3zM250 526h3v1h-3zM256 526h3v1h-3zM262 526h3v1h-3zM268 526h3v1h-3zM274 526h3v1h-3zM280 526h3v1h-3zM286 526h3v1h-3zM292 526h3v1h-3zM298 526h3v1h-3zM304 526h3v1h-3zM310 526h3v1h-3zM316 526h3v1h-3zM322 526h3v1h-3zM328 526h3v1h-3zM334 526h3v1h-3zM340 526h3v1h-3zM346 526h3v1h-3zM352 526h3v1h-3zM358 526h3v1h-3zM364 526h3v1h-3zM370 526h3v1h-3zM376 526h3v1h-3zM382 526h3v1h-3zM388 526h3v1h-3zM394 526h3v1h-3zM400 526h3v1h-3zM406 526h3v1h-3zM412 526h3v1h-3zM418 526h3v1h-3zM424 526h3v1h-3zM430 526h3v1h-3zM436 526h3v1h-3zM442 526h3v1h-3zM448 526h3v1h-3zM454 526h3v1h-3zM460 526h3v1h-3zM466 526h3v1h-3zM472 526h3v1h-3zM478 526h3v1h-3zM484 526h3v1h-3zM490 526h3v1h-3zM496 526h3v1h-3zM502 526h3v1h-3zM508 526h3v1h-3zM514 526h3v1h-3zM520 526h3v1h-3zM526 526h3v1h-3zM532 526h3v1h-3zM538 526h3v1h-3zM544 526h3v1h-3zM550 526h3v1h-3zM556 526h3v1h-3zM562 526h3v1h-3zM568 526h3v1h-3zM574 526h3v1h-3zM580 526h3v1h-3zM586 526h3v1h-3zM592 526h3v1h-3zM598 526h3v1h-3zM604 526h3v1h-3zM610 526h3v1h-3zM616 526h3v1h-3zM622 526h3v1h-3zM628 526h3v1h-3zM634 526h3v1h-3zM640 526h3v1h-3zM646 526h3v1h-3zM652 526h3v1h-3zM658 526h3v1h-3zM664 526h3v1h-3zM670 526h3v1h-3zM676 526h3v1h-3zM682 526h3v1h-3zM688 526h3v1h-3zM694 526h3v1h-3zM700 526h3v1h-3zM706 526h3v1h-3zM712 526h3v1h-3zM718 526h3v1h-3zM724 526h3v1h-3zM730 526h3v1h-3zM736 526h3v1h-3zM742 526h3v1h-3zM748 526h3v1h-3zM754 526h3v1h-3zM760 526h3v1h-3zM766 526h3v1h-3zM772 526h3v1h-3zM778 526h3v1h-3zM784 526h3v1h-3zM790 526h3v1h-3zM796 526h3v1h-3zM802 526h3v1h-3zM808 526h3v1h-3zM814 526h3v1h-3zM820 526h3v1h-3zM826 526h3v1h-3zM832 526h3v1h-3zM838 526h3v1h-3zM844 526h3v1h-3zM850 526h3v1h-3zM856 526h3v1h-3zM862 526h3v1h-3zM868 526h3v1h-3zM874 526h3v1h-3zM880 526h3v1h-3zM886 526h3v1h-3zM892 526h3v1h-3zM898 526h3v1h-3zM904 526h3v1h-3zM910 526h3v1h-3zM916 526h3v1h-3zM922 526h3v1h-3zM928 526h3v1h-3zM934 526h3v1h-3zM940 526h3v1h-3zM946 526h3v1h-3zM952 526h3v1h-3zM958 526h3v1h-3zM964 526h3v1h-3zM970 526h3v1h-3zM976 526h3v1h-3zM982 526h3v1h-3zM988 526h3v1h-3zM994 526h3v1h-3zM1000 526h3v1h-3zM1006 526h3v1h-3zM1012 526h3v1h-3zM1018 526h3v1h-3zM1024 526h3v1h-3zM1030 526h3v1h-3zM1036 526h3v1h-3zM1042 526h3v1h-3zM1048 526h3v1h-3zM1054 526h3v1h-3zM1060 526h3v1h-3zM1066 526h3v1h-3zM1072 526h3v1h-3zM1078 526h3v1h-3zM1084 526h3v1h-3zM1090 526h3v1h-3zM1096 526h3v1h-3zM1102 526h3v1h-3zM1108 526h3v1h-3zM1114 526h3v1h-3zM1120 526h3v1h-3zM1126 526h3v1h-3zM1132 526h3v1h-3zM1138 526h3v1h-3zM1144 526h3v1h-3zM1150 526h3v1h-3zM1156 526h3v1h-3zM1162 526h3v1h-3z" fill="#c0c0c0"/>
<path d="M75 494h1v1h-1zM73 495h2v1h-2zM76 495h2v1h-2zM291 495h10v1h-10zM71 496h2v1h-2zM78 496h1v1h-1zM290 496h1v1h-1zM301 496h4v1h-4zM70 497h1v1h-1zM79 497h2v1h-2zM289 497h1v1h-1zM305 497h3v1h-3zM68 498h2v1h-2zM81 498h2v1h-2zM287 498h2v1h-2zM308 498h1v1h-1zM55 499h13v1h-13zM83 499h1v1h-1zM286 499h1v1h-1zM308 499h1v1h-1zM3 500h1v1h-1zM50 500h5v1h-5zM84 500h1v1h-1zM285 500h1v1h-1zM309 500h1v1h-1zM867 500h1v1h-1zM4 501h1v1h-1zM47 501h3v1h-3zM85 501h1v1h-1zM284 501h1v1h-1zM309 501h1v1h-1zM866 501h1v1h-1zM868 501h2v1h-2zM5 502h2v1h-2zM34 502h5v1h-5zM45 502h2v1h-2zM86 502h1v1h-1zM281 502h3v1h-3zM310 502h1v1h-1zM511 502h6v1h-6zM865 502h1v1h-1zM870 502h2v1h-2zM905 502h6v1h-6zM7 503h1v1h-1zM32 503h2v1h-2zM39 503h6v1h-6zM87 503h1v1h-1zM277 503h4v1h-4zM311 503h1v1h-1zM505 503h6v1h-6zM517 503h2v1h-2zM863 503h2v1h-2zM872 503h2v1h-2zM901 503h4v1h-4zM911 503h5v1h-5zM8 504h1v1h-1zM30 504h2v1h-2zM88 504h1v1h-1zM274 504h3v1h-3zM311 504h1v1h-1zM501 504h4v1h-4zM519 504h3v1h-3zM862 504h1v1h-1zM874 504h5v1h-5zM898 504h3v1h-3zM9 505h2v1h-2zM28 505h2v1h-2zM89 505h1v1h-1zM272 505h2v1h-2zM312 505h1v1h-1zM495 505h6v1h-6zM522 505h2v1h-2zM861 505h1v1h-1zM879 505h6v1h-6zM896 505h2v1h-2zM11 506h17v1h-17zM90 506h1v1h-1zM270 506h2v1h-2zM313 506h1v1h-1zM490 506h5v1h-5zM524 506h1v1h-1zM860 506h1v1h-1zM885 506h2v1h-2zM894 506h2v1h-2zM91 507h4v1h-4zM103 507h14v1h-14zM129 507h3v1h-3zM268 507h2v1h-2zM313 507h1v1h-1zM425 507h4v1h-4zM487 507h3v1h-3zM525 507h1v1h-1zM571 507h1v1h-1zM859 507h1v1h-1zM887 507h3v1h-3zM892 507h2v1h-2zM95 508h8v1h-8zM117 508h4v1h-4zM125 508h4v1h-4zM132 508h2v1h-2zM207 508h13v1h-13zM266 508h2v1h-2zM314 508h1v1h-1zM339 508h1v1h-1zM421 508h4v1h-4zM429 508h4v1h-4zM447 508h6v1h-6zM465 508h3v1h-3zM485 508h2v1h-2zM526 508h1v1h-1zM569 508h2v1h-2zM572 508h2v1h-2zM857 508h2v1h-2zM890 508h2v1h-2zM121 509h4v1h-4zM134 509h2v1h-2zM202 509h5v1h-5zM220 509h2v1h-2zM264 509h2v1h-2zM314 509h1v1h-1zM337 509h2v1h-2zM340 509h2v1h-2zM419 509h2v1h-2zM433 509h14v1h-14zM453 509h4v1h-4zM461 509h4v1h-4zM468 509h2v1h-2zM482 509h3v1h-3zM527 509h1v1h-1zM567 509h2v1h-2zM574 509h1v1h-1zM856 509h1v1h-1zM136 510h2v1h-2zM177 510h12v1h-12zM199 510h3v1h-3zM222 510h2v1h-2zM262 510h2v1h-2zM315 510h2v1h-2zM335 510h2v1h-2zM342 510h2v1h-2zM418 510h1v1h-1zM457 510h4v1h-4zM470 510h1v1h-1zM480 510h2v1h-2zM528 510h1v1h-1zM566 510h1v1h-1zM575 510h2v1h-2zM823 510h8v1h-8zM855 510h1v1h-1zM138 511h2v1h-2zM173 511h4v1h-4zM189 511h4v1h-4zM197 511h2v1h-2zM224 511h2v1h-2zM260 511h2v1h-2zM317 511h2v1h-2zM334 511h1v1h-1zM344 511h2v1h-2zM417 511h1v1h-1zM471 511h2v1h-2zM478 511h2v1h-2zM529 511h1v1h-1zM564 511h2v1h-2zM577 511h2v1h-2zM819 511h4v1h-4zM831 511h8v1h-8zM853 511h2v1h-2zM140 512h2v1h-2zM169 512h4v1h-4zM193 512h4v1h-4zM226 512h5v1h-5zM239 512h21v1h-21zM319 512h3v1h-3zM332 512h2v1h-2zM346 512h34v1h-34zM415 512h2v1h-2zM473 512h2v1h-2zM476 512h2v1h-2zM530 512h1v1h-1zM562 512h2v1h-2zM579 512h2v1h-2zM818 512h1v1h-1zM839 512h8v1h-8zM852 512h1v1h-1zM142 513h2v1h-2zM165 513h4v1h-4zM231 513h8v1h-8zM322 513h10v1h-10zM380 513h2v1h-2zM414 513h1v1h-1zM475 513h1v1h-1zM531 513h12v1h-12zM559 513h3v1h-3zM581 513h2v1h-2zM817 513h1v1h-1zM847 513h5v1h-5zM144 514h2v1h-2zM151 514h14v1h-14zM382 514h2v1h-2zM413 514h1v1h-1zM543 514h8v1h-8zM557 514h2v1h-2zM583 514h3v1h-3zM816 514h1v1h-1zM146 515h5v1h-5zM384 515h2v1h-2zM412 515h1v1h-1zM551 515h6v1h-6zM586 515h11v1h-11zM815 515h1v1h-1zM386 516h3v1h-3zM407 516h5v1h-5zM597 516h4v1h-4zM802 516h3v1h-3zM814 516h1v1h-1zM389 517h4v1h-4zM399 517h8v1h-8zM601 517h6v1h-6zM615 517h6v1h-6zM800 517h2v1h-2zM805 517h2v1h-2zM813 517h1v1h-1zM393 518h6v1h-6zM607 518h8v1h-8zM621 518h2v1h-2zM798 518h2v1h-2zM807 518h3v1h-3zM812 518h1v1h-1zM623 519h3v1h-3zM783 519h8v1h-8zM796 519h2v1h-2zM810 519h2v1h-2zM626 520h2v1h-2zM778 520h5v1h-5zM791 520h5v1h-5zM628 521h2v1h-2zM751 521h8v1h-8zM776 521h2v1h-2zM630 522h2v1h-2zM641 522h20v1h-20zM743 522h8v1h-8zM759 522h6v1h-6zM774 522h2v1h-2zM632 523h2v1h-2zM637 523h4v1h-4zM661 523h4v1h-4zM735 523h8v1h-8zM765 523h4v1h-4zM772 523h2v1h-2zM634 524h3v1h-3zM665 524h4v1h-4zM723 524h12v1h-12zM769 524h3v1h-3zM669 525h2v1h-2zM721 525h2v1h-2zM671 526h3v1h-3zM679 526h8v1h-8zM719 526h2v1h-2zM674 527h5v1h-5zM687 527h16v1h-16zM718 527h1v1h-1zM703 528h8v1h-8zM716 528h2v1h-2zM711 529h5v1h-5z" fill="#1e90ff"/>
</svg>
<div id="toolbar"><i id="d1"></i><i class="tsep" style="left:95px;height:19px"></i><i class="tsep" style="left:178px;height:21px"></i><i class="tsep" style="left:179px;height:21px;background:#fff"></i><span class="t tb" style="left:-0.44px;top:5px;font-size:9.8px;line-height:11px;text-rendering:geometricPrecision;">5</span><span class="t tb" style="left:13.85px;top:5px;font-size:9.8px;line-height:11px;letter-spacing:-0.15px;text-rendering:geometricPrecision;">M30</span><span class="t tb" style="left:45.15px;top:5px;font-size:9.8px;line-height:11px;letter-spacing:-0.18px;text-rendering:geometricPrecision;">H1</span><span class="t tb" style="left:72.04px;top:5px;font-size:9.8px;line-height:11px;letter-spacing:0.45px;text-rendering:geometricPrecision;">H4</span><span class="t tb" style="left:100.85px;top:5px;font-size:9.8px;line-height:11px;letter-spacing:0.02px;text-rendering:geometricPrecision;">D1</span><span class="t tb" style="left:129.4px;top:5px;font-size:9.8px;line-height:11px;letter-spacing:-0.55px;text-rendering:geometricPrecision;">W1</span><span class="t tb" style="left:154.95px;top:5px;font-size:9.8px;line-height:11px;letter-spacing:0.45px;text-rendering:geometricPrecision;">MN</span></div>
<i id="tbl1"></i><i id="tbl2"></i>
<span class="t ax" style="left:18.12px;top:29px;font-size:9.7px;line-height:11px;letter-spacing:0.01px;text-rendering:geometricPrecision;">USDCAD-,Daily</span>
<span class="t ax" style="left:93.06px;top:29px;font-size:9.7px;line-height:11px;letter-spacing:-0.36px;text-rendering:geometricPrecision;">1.26093</span>
<span class="t ax" style="left:129.12px;top:29px;font-size:9.7px;line-height:11px;letter-spacing:-0.39px;text-rendering:geometricPrecision;">1.26460</span>
<span class="t ax" style="left:165.16px;top:29px;font-size:9.7px;line-height:11px;letter-spacing:-0.36px;text-rendering:geometricPrecision;">1.25918</span>
<span class="t ax" style="left:200.96px;top:29px;font-size:9.7px;line-height:11px;letter-spacing:-0.3px;text-rendering:geometricPrecision;">1.25994</span>
<span class="t ax" style="left:6.85px;top:410px;font-size:9.7px;line-height:11px;letter-spacing:-0.12px;text-rendering:geometricPrecision;">MACD(12,26,9)</span>
<span class="t ax" style="left:75.75px;top:410px;font-size:9.7px;line-height:11px;letter-spacing:-0.31px;text-rendering:geometricPrecision;">0.003572</span>
<span class="t ax" style="left:117.15px;top:410px;font-size:9.7px;line-height:11px;letter-spacing:-0.36px;text-rendering:geometricPrecision;">0.001382</span>
<span class="t ax" style="left:6.85px;top:481px;font-size:9.7px;line-height:11px;letter-spacing:-0.22px;text-rendering:geometricPrecision;">RSI(14)</span>
<span class="t ax" style="left:41.3px;top:481px;font-size:9.7px;line-height:11px;letter-spacing:-0.13px;text-rendering:geometricPrecision;">63.7745</span>
<span class="t ax" style="left:1170.86px;top:33px;font-size:9.7px;line-height:11px;letter-spacing:-0.26px;text-rendering:geometricPrecision;">1.29615</span>
<span class="t ax" style="left:1170.86px;top:66px;font-size:9.7px;line-height:11px;letter-spacing:-0.26px;text-rendering:geometricPrecision;">1.28985</span>
<span class="t ax" style="left:1170.86px;top:99px;font-size:9.7px;line-height:11px;letter-spacing:-0.26px;text-rendering:geometricPrecision;">1.28355</span>
<span class="t ax" style="left:1170.86px;top:132px;font-size:9.7px;line-height:11px;letter-spacing:-0.29px;text-rendering:geometricPrecision;">1.27740</span>
<span class="t ax" style="left:1170.86px;top:165px;font-size:9.7px;line-height:11px;letter-spacing:-0.16px;text-rendering:geometricPrecision;">1.27110</span>
<span class="t ax" style="left:1170.86px;top:198px;font-size:9.7px;line-height:11px;letter-spacing:-0.26px;text-rendering:geometricPrecision;">1.26495</span>
<span class="t ax" style="left:1170.86px;top:231px;font-size:9.7px;line-height:11px;letter-spacing:-0.26px;text-rendering:geometricPrecision;">1.25865</span>
<span class="t ax" style="left:1170.86px;top:264px;font-size:9.7px;line-height:11px;letter-spacing:-0.26px;text-rendering:geometricPrecision;">1.25235</span>
<span class="t ax" style="left:1170.86px;top:297px;font-size:9.7px;line-height:11px;letter-spacing:-0.29px;text-rendering:geometricPrecision;">1.24620</span>
<span class="t ax" style="left:1170.86px;top:330px;font-size:9.7px;line-height:11px;letter-spacing:-0.29px;text-rendering:geometricPrecision;">1.23990</span>
<span class="t ax" style="left:1170.86px;top:363px;font-size:9.7px;line-height:11px;letter-spacing:-0.26px;text-rendering:geometricPrecision;">1.23375</span>
<span class="t ax" style="left:1168.75px;top:408px;font-size:9.7px;line-height:11px;letter-spacing:-0.29px;text-rendering:geometricPrecision;">0.010869</span>
<span class="t ax" style="left:1168.45px;top:439px;font-size:9.7px;line-height:11px;letter-spacing:-0.28px;text-rendering:geometricPrecision;">0.00</span>
<span class="t ax" style="left:1168.57px;top:463px;font-size:9.7px;line-height:11px;letter-spacing:-0.17px;text-rendering:geometricPrecision;">-0.008974</span>
<span class="t ax" style="left:1168.96px;top:479px;font-size:9.7px;line-height:11px;letter-spacing:-0.36px;text-rendering:geometricPrecision;">100</span>
<span class="t ax" style="left:1167.8px;top:494px;font-size:9.7px;line-height:11px;letter-spacing:-0.1px;text-rendering:geometricPrecision;">70</span>
<span class="t ax" style="left:1167.88px;top:522px;font-size:9.7px;line-height:11px;letter-spacing:-0.18px;text-rendering:geometricPrecision;">30</span>
<span class="t ax" style="left:1168.65px;top:537px;font-size:9.7px;line-height:11px;text-rendering:geometricPrecision;">0</span>
<span class="t ax" style="left:1.56px;top:553px;font-size:9.7px;line-height:11px;letter-spacing:-0.27px;text-rendering:geometricPrecision;">8 Jul 2021</span>
<span class="t ax" style="left:65.86px;top:553px;font-size:9.7px;line-height:11px;letter-spacing:-0.29px;text-rendering:geometricPrecision;">18 Jul 2021</span>
<span class="t ax" style="left:130.11px;top:553px;font-size:9.7px;line-height:11px;letter-spacing:-0.31px;text-rendering:geometricPrecision;">27 Jul 2021</span>
<span class="t ax" style="left:193.56px;top:553px;font-size:9.7px;line-height:11px;letter-spacing:-0.07px;text-rendering:geometricPrecision;">5 Aug 2021</span>
<span class="t ax" style="left:258.15px;top:553px;font-size:9.7px;line-height:11px;letter-spacing:-0.09px;text-rendering:geometricPrecision;">15 Aug 2021</span>
<span class="t ax" style="left:322.4px;top:553px;font-size:9.7px;line-height:11px;letter-spacing:-0.11px;text-rendering:geometricPrecision;">24 Aug 2021</span>
<span class="t ax" style="left:385.51px;top:553px;font-size:9.7px;line-height:11px;letter-spacing:-0.29px;text-rendering:geometricPrecision;">2 Sep 2021</span>
<span class="t ax" style="left:449.86px;top:553px;font-size:9.7px;line-height:11px;letter-spacing:-0.28px;text-rendering:geometricPrecision;">12 Sep 2021</span>
<span class="t ax" style="left:514.11px;top:553px;font-size:9.7px;line-height:11px;letter-spacing:-0.3px;text-rendering:geometricPrecision;">21 Sep 2021</span>
<span class="t ax" style="left:578.18px;top:553px;font-size:9.7px;line-height:11px;letter-spacing:-0.31px;text-rendering:geometricPrecision;">30 Sep 2021</span>
<span class="t ax" style="left:641.86px;top:553px;font-size:9.7px;line-height:11px;letter-spacing:-0.17px;text-rendering:geometricPrecision;">10 Oct 2021</span>
<span class="t ax" style="left:705.86px;top:553px;font-size:9.7px;line-height:11px;letter-spacing:-0.17px;text-rendering:geometricPrecision;">19 Oct 2021</span>
<span class="t ax" style="left:770.11px;top:553px;font-size:9.7px;line-height:11px;letter-spacing:-0.19px;text-rendering:geometricPrecision;">28 Oct 2021</span>
<span class="t ax" style="left:833.5px;top:553px;font-size:9.7px;line-height:11px;letter-spacing:-0.07px;text-rendering:geometricPrecision;">7 Nov 2021</span>
<span class="t ax" style="left:897.86px;top:553px;font-size:9.7px;line-height:11px;letter-spacing:-0.08px;text-rendering:geometricPrecision;">16 Nov 2021</span>
<i class="pl" style="top:142px;background:#ff0000"></i><i class="pl" style="top:211px;background:#ff0000"></i><i class="pl" style="top:274px;background:#00ff00"></i><i class="pl" style="top:338px;background:#0000ff"></i><i class="pl" style="top:394px;background:#0000ff"></i><i class="pl" style="top:223px;background:#000"></i>
<span class="t axw" style="left:1170.86px;top:143px;font-size:9.7px;line-height:11px;letter-spacing:-0.25px;text-rendering:geometricPrecision;">1.27519</span>
<span class="t axw" style="left:1170.86px;top:212px;font-size:9.7px;line-height:11px;letter-spacing:-0.29px;text-rendering:geometricPrecision;">1.26204</span>
<span class="t axw" style="left:1170.86px;top:275px;font-size:9.7px;line-height:11px;letter-spacing:-0.26px;text-rendering:geometricPrecision;">1.25008</span>
<span class="t axw" style="left:1170.86px;top:339px;font-size:9.7px;line-height:11px;letter-spacing:-0.25px;text-rendering:geometricPrecision;">1.23812</span>
<span class="t axw" style="left:1170.86px;top:395px;font-size:9.7px;line-height:11px;letter-spacing:-0.25px;text-rendering:geometricPrecision;">1.22751</span>
<span class="t axw" style="left:1170.86px;top:224px;font-size:9.7px;line-height:11px;letter-spacing:-0.29px;text-rendering:geometricPrecision;">1.25994</span>
<i class="rb" style="left:6px"></i><i class="rb" style="left:173px"></i>
<i class="px" style="left:6px;width:109px"></i><i class="px" style="left:117px;width:108px"></i>
<i style="left:7px;top:68px;width:50px;height:2px;background:#e13030"></i><i style="left:174px;top:68px;width:50px;height:2px;background:#e13030"></i>
<i class="ud" style="left:10px"></i><i class="ul" style="left:10px"></i>
<i class="ud" style="left:177px"></i><i class="ul" style="left:177px"></i>
<i id="spin"></i><i class="sb" style="left:62px"></i><i class="sb" style="left:151px"></i><i class="sv" style="left:81px"></i><i class="sv" style="left:149px"></i>
<i class="a1" style="left:68px;top:54px;width:5px"></i><i class="a1" style="left:69px;top:55px;width:3px"></i><i class="a1" style="left:70px;top:56px;width:1px"></i>
<i class="a1" style="left:159px;top:54px;width:1px"></i><i class="a1" style="left:158px;top:55px;width:3px"></i><i class="a1" style="left:157px;top:56px;width:5px"></i>
<span class="t btn" style="left:17.16px;top:50px;font-size:12.5px;line-height:14px;transform:scaleX(0.87);">SELL</span><span class="t btn" style="left:185.9px;top:50px;font-size:12.5px;line-height:14px;letter-spacing:-0.56px;">BUY</span><span class="t vol" style="left:121.8px;top:48px;font-size:13.0px;line-height:15px;letter-spacing:-0.28px;">3.00</span>
<span class="t sm" style="left:26.13px;top:86px;font-size:12.0px;line-height:14px;letter-spacing:0.19px;font-weight:bold;">1.25</span><span class="t big" style="left:52.35px;top:66px;font-size:35.25px;line-height:37px;transform:scaleX(0.938);">99</span><span class="t sm" style="left:92.92px;top:70px;font-size:12.0px;line-height:14px;font-weight:bold;">4</span><span class="t sm" style="left:135.75px;top:86px;font-size:12.0px;line-height:14px;letter-spacing:0.28px;font-weight:bold;">1.26</span><span class="t big" style="left:162.96px;top:66px;font-size:35.25px;line-height:37px;transform:scaleX(0.928);">02</span><span class="t sm" style="left:204.03px;top:70px;font-size:12.0px;line-height:14px;font-weight:bold;">3</span>
<div id="tabbar"><i id="tl1"></i><i id="tl2"></i><i id="tl3"></i></div>
<i class="sep" style="left:104px"></i><i class="sep" style="left:212px"></i><i class="sep" style="left:320px"></i><i class="sep" style="left:636px"></i><i class="sep" style="left:732px"></i><i class="sep" style="left:812px"></i>
<i id="act"></i>
<span class="t tab" style="left:14.56px;top:575px;font-size:12.0px;line-height:14px;letter-spacing:0.27px;">USDX,Weekly</span><span class="t tab" style="left:114.42px;top:575px;font-size:12.0px;line-height:14px;letter-spacing:0.08px;">EURUSD-,Daily</span><span class="t tab" style="left:222.4px;top:575px;font-size:12.0px;line-height:14px;letter-spacing:0.16px;">AUDUSD-,Daily</span><span class="t tab" style="left:331.57px;top:575px;font-size:12.0px;line-height:14px;letter-spacing:-0.03px;">USDCHF-,H4</span><span class="t tab" style="left:535.8px;top:575px;font-size:12.0px;line-height:14px;letter-spacing:0.28px;">USDCNH-,Daily</span><span class="t tab" style="left:646.62px;top:575px;font-size:12.0px;line-height:14px;letter-spacing:0.18px;">XAUUSD-,H4</span><span class="t tab" style="left:742.27px;top:575px;font-size:12.0px;line-height:14px;letter-spacing:0.6px;">UKOil-,H4</span><span class="t taba" style="left:426.37px;top:575px;font-size:12.0px;line-height:14px;letter-spacing:0.16px;">USDCAD-,Daily</span>
<i class="ar" style="left:1180.5px;border-right:3.5px solid #9a9a9a;border-left:0"></i>
<i class="ar" style="left:1200px;border-left:3.5px solid #9a9a9a;border-right:0"></i>
</body></html>
